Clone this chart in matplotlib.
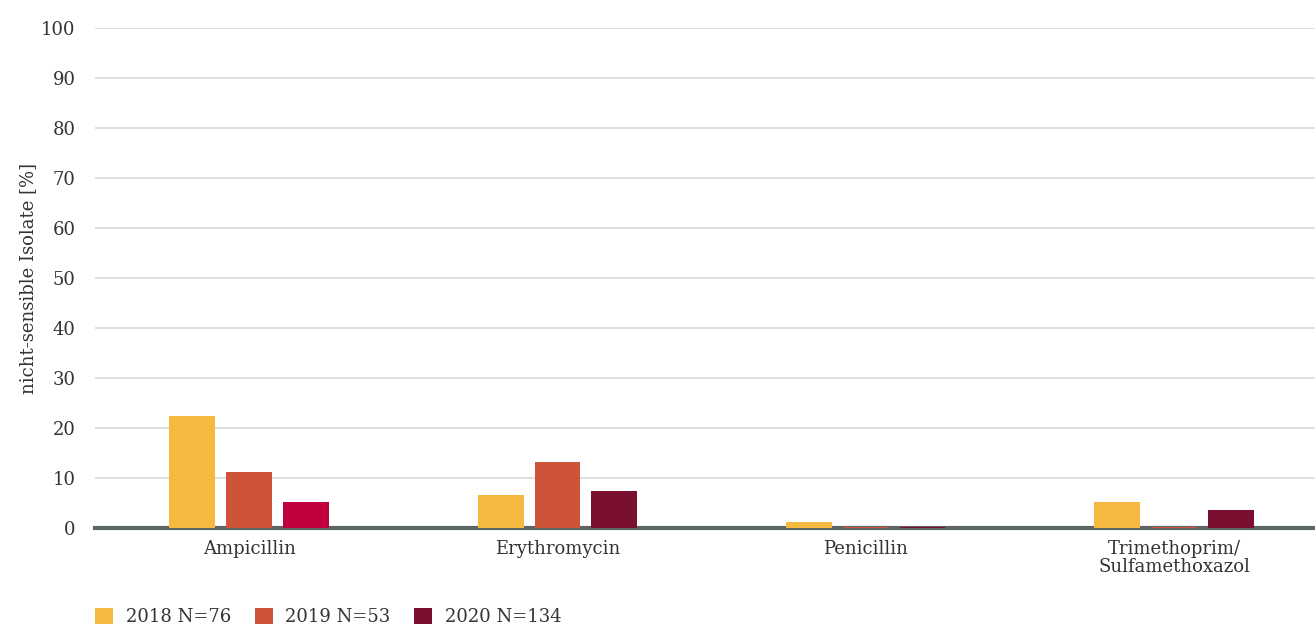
import matplotlib
matplotlib.use("Agg")
import matplotlib.pyplot as plt
import numpy as np
from matplotlib.patches import Patch

categories = ["Ampicillin", "Erythromycin", "Penicillin", "Trimethoprim/\nSulfamethoxazol"]
series_names = ["2018 N=76", "2019 N=53", "2020 N=134"]
v2018 = [22.5, 6.7, 1.3, 5.3]
v2019 = [11.3, 13.3, 0.3, 0.3]
v2020 = [5.3, 7.5, 0.3, 3.7]
yticks = [0, 10, 20, 30, 40, 50, 60, 70, 80, 90, 100]

colors = ["#f6b940", "#cd533a", "#7a1030"]
col2020 = ["#c0003c", "#7a1030", "#7a1030", "#7a1030"]

plt.rcParams['font.family'] = ['DejaVu Serif']
txt = "#333333"
fs = 13

fig = plt.figure(figsize=(13.15, 6.24), dpi=100)
ax = fig.add_axes([95/1315, 1 - 528/624, 1 - 95/1315, 500/624])

x = np.arange(len(categories))
w = 0.149
off = 0.184
ax.bar(x - off, v2018, w, color=colors[0], zorder=3)
ax.bar(x, v2019, w, color=colors[1], zorder=3)
ax.bar(x + off, v2020, w, color=col2020, zorder=3)

ax.set_xlim(-0.5, 3.457)
ax.set_ylim(0, 100)
ax.set_yticks(yticks)
ax.set_yticklabels([str(t) for t in yticks], fontsize=fs, color=txt)
ax.set_xticks(x)
ax.set_xticklabels(categories, fontsize=fs, color=txt, linespacing=1.0)
ax.tick_params(axis='both', length=0)
ax.tick_params(axis='y', pad=14)
ax.tick_params(axis='x', pad=9)
ax.grid(axis='y', color="#d6dadc", linewidth=1.2, zorder=0)
ax.set_axisbelow(True)
for s in ax.spines.values():
    s.set_visible(False)
ax.axhline(0, color="#5c6466", linewidth=3, zorder=2, clip_on=False)
ax.set_ylabel("nicht-sensible Isolate [%]", fontsize=fs, color=txt, labelpad=3)

handles = [Patch(facecolor=c) for c in colors]
fig.legend(handles, series_names, loc='lower left', bbox_to_anchor=(79/1315, -0.029),
           ncol=3, frameon=False, fontsize=fs, handlelength=1.0, handleheight=1.0,
           columnspacing=1.3, handletextpad=0.7, labelcolor=txt)

fig.savefig("out.png", dpi=100)
